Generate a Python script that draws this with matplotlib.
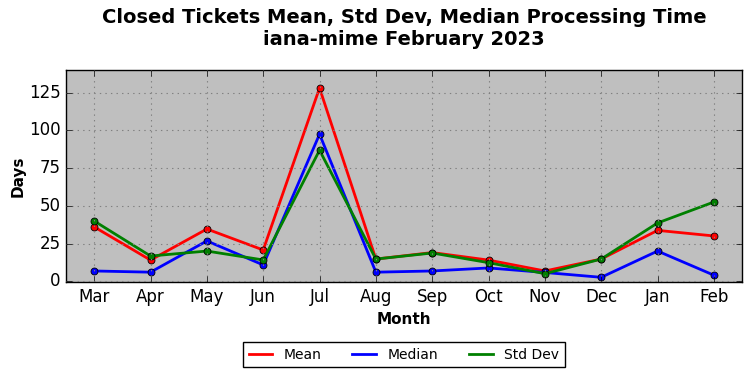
import matplotlib
matplotlib.use("Agg")
import matplotlib.pyplot as plt

# Data
months = ["Mar", "Apr", "May", "Jun", "Jul", "Aug", "Sep", "Oct", "Nov", "Dec", "Jan", "Feb"]
mean_days = [36, 14, 34.6, 20.7, 128, 14.7, 19, 14, 6.8, 14.7, 33.7, 30]
median_days = [6.8, 6, 26.7, 10.8, 97.4, 6, 6.8, 8.8, 5.8, 2.6, 20, 4]
std_days = [39.9, 16.7, 20, 14.1, 86.8, 14.7, 18.7, 12.3, 5, 14.7, 38.6, 52.5]

plt.style.use("classic")
fig = plt.figure(figsize=(7.52, 3.78), dpi=100, facecolor="white")
ax = fig.add_axes([0.0878, 0.254, 0.899, 0.561])
ax.set_facecolor("#bfbfbf")

x = range(len(months))
ax.plot(x, mean_days, color="red", lw=2, marker="o", ms=5, mec="black", mew=0.6, label="Mean")
ax.plot(x, median_days, color="blue", lw=2, marker="o", ms=5, mec="black", mew=0.6, label="Median")
ax.plot(x, std_days, color="green", lw=2, marker="o", ms=5, mec="black", mew=0.6, label="Std Dev")

ax.set_xlim(-0.5, len(months) - 0.5)
ax.set_ylim(-0.5, 140)
ax.set_xticks(list(x))
ax.set_xticklabels(months)
ax.set_yticks([0, 25, 50, 75, 100, 125])
ax.tick_params(labelsize=12)
ax.grid(True, color="gray", linestyle=":", linewidth=0.8)

ax.set_xlabel("Month", fontsize=11, fontweight="bold")
ax.set_ylabel("Days", fontsize=11, fontweight="bold", labelpad=2)
ax.set_title("Closed Tickets Mean, Std Dev, Median Processing Time\niana-mime February 2023",
             fontsize=14, fontweight="bold", pad=18)

leg = ax.legend(loc="center", bbox_to_anchor=(0.5, -0.343), ncol=3, fontsize=10,
                frameon=True, fancybox=False, edgecolor="black", numpoints=1,
                handlelength=1.7, handletextpad=0.85, columnspacing=2.2)
for lh in leg.get_lines():
    lh.set_marker("")

fig.savefig("out.png", dpi=100, facecolor="white")
